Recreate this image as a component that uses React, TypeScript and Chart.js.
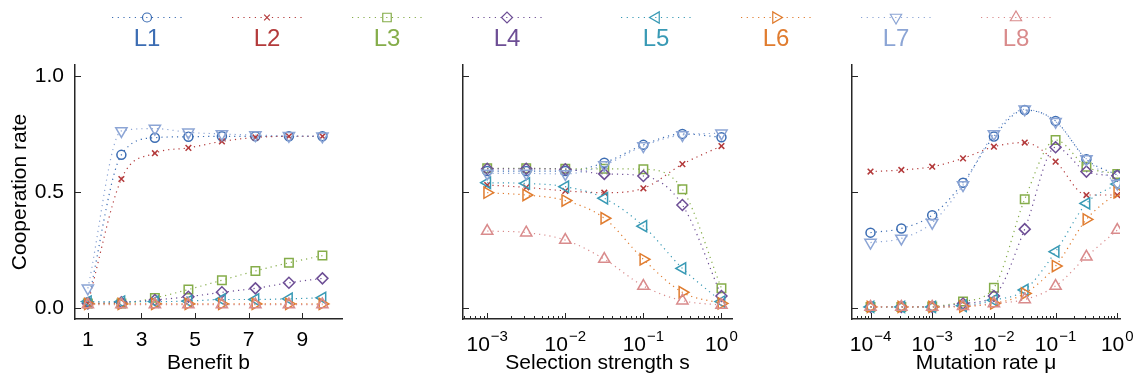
import React, { useEffect, useRef } from 'react';
import { Chart, registerables } from 'chart.js';
import { drawPoint } from 'chart.js/helpers';
Chart.register(...registerables);

const FONT = "'Liberation Sans', Arial, Helvetica, sans-serif";

// ---- series meta ----
const seriesNames = ['L1', 'L2', 'L3', 'L4', 'L5', 'L6', 'L7', 'L8'];
const seriesColors = ['#3c6db3', '#b33a3b', '#85ad4a', '#6d4e95', '#399ab5', '#e07c2f', '#8ca5d5', '#d98b8c'];
const pointStyles = ['circle', 'crossRot', 'rect', 'rectRot', 'triangle', 'triangle', 'triangle', 'triangle'];
const pointRotations = [0, 0, 0, 0, -90, 90, 180, 0];
const pointRadii = [4.5, 4, 6, 5.5, 6.5, 6.5, 6.5, 6.5];

// ---- panel 1: benefit b ----
const benefitB = [1, 2.25, 3.5, 4.75, 6, 7.25, 8.5, 9.75];
const benefitL1 = [0.025, 0.66, 0.734, 0.738, 0.74, 0.74, 0.74, 0.74];
const benefitL2 = [0.02, 0.556, 0.667, 0.69, 0.718, 0.735, 0.74, 0.74];
const benefitL3 = [0.02, 0.02, 0.044, 0.08, 0.12, 0.16, 0.195, 0.226];
const benefitL4 = [0.02, 0.025, 0.035, 0.049, 0.068, 0.085, 0.109, 0.128];
const benefitL5 = [0.028, 0.028, 0.028, 0.03, 0.037, 0.037, 0.04, 0.044];
const benefitL6 = [0.018, 0.018, 0.018, 0.018, 0.018, 0.018, 0.018, 0.018];
const benefitL7 = [0.085, 0.763, 0.773, 0.757, 0.75, 0.745, 0.742, 0.74];
const benefitL8 = [0.015, 0.015, 0.015, 0.015, 0.015, 0.015, 0.015, 0.015];
const benefitTicks = [1, 3, 5, 7, 9];

// ---- panel 2: selection strength s ----
const selectionS = [0.001, 0.00316, 0.01, 0.0316, 0.1, 0.316, 1];
const selectionL1 = [0.59, 0.59, 0.59, 0.626, 0.703, 0.75, 0.736];
const selectionL2 = [0.53, 0.52, 0.505, 0.497, 0.516, 0.62, 0.698];
const selectionL3 = [0.602, 0.602, 0.6, 0.6, 0.598, 0.512, 0.085];
const selectionL4 = [0.6, 0.6, 0.598, 0.578, 0.569, 0.444, 0.052];
const selectionL5 = [0.54, 0.537, 0.523, 0.473, 0.353, 0.171, 0.028];
const selectionL6 = [0.497, 0.487, 0.463, 0.387, 0.21, 0.068, 0.02];
const selectionL7 = [0.58, 0.58, 0.578, 0.616, 0.698, 0.746, 0.753];
const selectionL8 = [0.332, 0.325, 0.293, 0.211, 0.095, 0.032, 0.013];
const selectionTickExps = [-3, -2, -1, 0];

// ---- panel 3: mutation rate mu ----
const mutationMu = [0.0001, 0.000316, 0.001, 0.00316, 0.01, 0.0316, 0.1, 0.316, 1];
const mutationL1 = [0.325, 0.343, 0.4, 0.54, 0.739, 0.853, 0.806, 0.641, 0.573];
const mutationL2 = [0.588, 0.595, 0.609, 0.645, 0.695, 0.713, 0.631, 0.487, 0.487];
const mutationL3 = [0.005, 0.005, 0.007, 0.028, 0.088, 0.469, 0.724, 0.609, 0.578];
const mutationL4 = [0.005, 0.005, 0.005, 0.02, 0.052, 0.34, 0.693, 0.588, 0.57];
const mutationL5 = [0.005, 0.005, 0.005, 0.01, 0.034, 0.078, 0.243, 0.451, 0.534];
const mutationL6 = [0.005, 0.005, 0.005, 0.007, 0.02, 0.063, 0.181, 0.382, 0.499];
const mutationL7 = [0.282, 0.3, 0.368, 0.53, 0.75, 0.856, 0.803, 0.642, 0.537];
const mutationL8 = [0.005, 0.005, 0.005, 0.008, 0.02, 0.037, 0.095, 0.221, 0.336];
const mutationTickExps = [-4, -3, -2, -1, 0];

const rateTicks = [0, 0.5, 1];
const Y_MIN = -0.047;
const Y_MAX = 1.047;

const LEGEND_X = [147, 267, 387, 507, 656, 776, 896, 1016];

const AXIS_COLOR = '#262626';

function makeDatasets(xs: number[], series: number[][]) {
  return series.map((ys, i) => ({
    label: seriesNames[i],
    data: xs.map((x, j) => ({ x, y: ys[j] })),
    borderColor: seriesColors[i],
    backgroundColor: 'rgba(0,0,0,0)',
    pointBorderColor: seriesColors[i],
    pointBackgroundColor: 'rgba(0,0,0,0)',
    pointStyle: pointStyles[i],
    pointRotation: pointRotations[i],
    pointRadius: pointRadii[i],
    pointBorderWidth: 1.5,
    borderWidth: 1.2,
    borderDash: [1.2, 4],
    cubicInterpolationMode: 'monotone',
    order: 7 - i,
  }));
}

const axisPlugin = {
  id: 'inwardAxes',
  afterDraw(chart: any, _args: any, opts: any) {
    const { ctx, chartArea } = chart;
    const xs = chart.scales.x;
    const ys = chart.scales.y;
    ctx.save();
    ctx.strokeStyle = AXIS_COLOR;
    ctx.lineWidth = 1;
    for (const v of rateTicks) {
      const py = Math.round(ys.getPixelForValue(v)) + 0.5;
      ctx.beginPath();
      ctx.moveTo(chartArea.left, py);
      ctx.lineTo(chartArea.left + 6, py);
      ctx.stroke();
    }
    const drawXTick = (v: number, len: number) => {
      const px = Math.round(xs.getPixelForValue(v)) + 0.5;
      ctx.beginPath();
      ctx.moveTo(px, chartArea.bottom);
      ctx.lineTo(px, chartArea.bottom - len);
      ctx.stroke();
    };
    if (opts.log) {
      const lo = Math.floor(Math.log10(xs.min));
      const hi = Math.ceil(Math.log10(xs.max));
      for (let k = lo; k <= hi; k++) {
        for (let m = 1; m <= 9; m++) {
          const v = m * Math.pow(10, k);
          if (v < xs.min || v > xs.max) continue;
          drawXTick(v, m === 1 ? 6 : 3);
        }
      }
      ctx.fillStyle = '#000';
      ctx.textBaseline = 'alphabetic';
      ctx.textAlign = 'left';
      for (const e of opts.exps as number[]) {
        const px = xs.getPixelForValue(Math.pow(10, e));
        const base = '10';
        const sup = e === 0 ? '0' : '\u2212' + Math.abs(e);
        ctx.font = `21px ${FONT}`;
        const w1 = ctx.measureText(base).width;
        ctx.font = `15px ${FONT}`;
        const w2 = ctx.measureText(sup).width;
        const start = px - (w1 + w2 + 1) / 2;
        ctx.font = `21px ${FONT}`;
        ctx.fillText(base, start, chartArea.bottom + 32);
        ctx.font = `15px ${FONT}`;
        ctx.fillText(sup, start + w1 + 1, chartArea.bottom + 22);
      }
    } else {
      for (const v of benefitTicks) drawXTick(v, 6);
    }
    ctx.restore();
  },
};

function makeConfig(opts: {
  xs: number[];
  series: number[][];
  log: boolean;
  xMin: number;
  xMax: number;
  yWidth: number;
  padRight: number;
  xTitle: string;
  yTitle?: string;
  exps?: number[];
}) {
  return {
    type: 'line',
    data: { datasets: makeDatasets(opts.xs, opts.series) },
    plugins: [axisPlugin],
    options: {
      responsive: false,
      animation: false,
      events: [],
      layout: { padding: { left: 0, right: opts.padRight, top: 65, bottom: 0 } },
      plugins: {
        legend: { display: false },
        tooltip: { enabled: false },
        inwardAxes: { log: opts.log, exps: opts.exps || [] },
      },
      scales: {
        x: {
          type: opts.log ? 'logarithmic' : 'linear',
          min: opts.xMin,
          max: opts.xMax,
          grid: { display: false },
          border: { display: true, color: AXIS_COLOR, width: 1.5 },
          ticks: {
            display: !opts.log,
            color: '#000',
            font: { size: 21, family: FONT },
            padding: 1,
            autoSkip: false,
            maxRotation: 0,
          },
          afterBuildTicks: (s: any) => {
            if (!opts.log) s.ticks = benefitTicks.map((v) => ({ value: v }));
          },
          afterFit: (s: any) => {
            s.height = 66;
          },
          title: {
            display: true,
            text: opts.xTitle,
            color: '#000',
            font: { size: 21, family: FONT },
            padding: { top: 0, bottom: 9 },
          },
        },
        y: {
          type: 'linear',
          min: Y_MIN,
          max: Y_MAX,
          grid: { display: false },
          border: { display: true, color: AXIS_COLOR, width: 1.5 },
          ticks: {
            display: !!opts.yTitle,
            color: '#000',
            font: { size: 21, family: FONT },
            padding: 3,
            callback: (v: any) => Number(v).toFixed(1),
          },
          afterBuildTicks: (s: any) => {
            s.ticks = rateTicks.map((v) => ({ value: v }));
          },
          afterFit: (s: any) => {
            s.width = opts.yWidth;
          },
          title: {
            display: !!opts.yTitle,
            text: opts.yTitle || '',
            color: '#000',
            font: { size: 21, family: FONT },
            padding: { top: 8, bottom: 0 },
          },
        },
      },
    },
  } as any;
}

export default function App() {
  const c1 = useRef<HTMLCanvasElement>(null);
  const c2 = useRef<HTMLCanvasElement>(null);
  const c3 = useRef<HTMLCanvasElement>(null);
  const legendRef = useRef<HTMLCanvasElement>(null);

  useEffect(() => {
    Chart.defaults.font.family = FONT;
    const charts: Chart[] = [];
    charts.push(
      new Chart(
        c1.current!,
        makeConfig({
          xs: benefitB,
          series: [benefitL1, benefitL2, benefitL3, benefitL4, benefitL5, benefitL6, benefitL7, benefitL8],
          log: false,
          xMin: 0.52,
          xMax: 10.48,
          yWidth: 75,
          padRight: 5,
          xTitle: 'Benefit b',
          yTitle: 'Cooperation rate',
        })
      )
    );
    charts.push(
      new Chart(
        c2.current!,
        makeConfig({
          xs: selectionS,
          series: [selectionL1, selectionL2, selectionL3, selectionL4, selectionL5, selectionL6, selectionL7, selectionL8],
          log: true,
          xMin: Math.pow(10, -3.31),
          xMax: Math.pow(10, 0.135),
          yWidth: 63,
          padRight: 7,
          xTitle: 'Selection strength s',
          exps: selectionTickExps,
        })
      )
    );
    charts.push(
      new Chart(
        c3.current!,
        makeConfig({
          xs: mutationMu,
          series: [mutationL1, mutationL2, mutationL3, mutationL4, mutationL5, mutationL6, mutationL7, mutationL8],
          log: true,
          xMin: Math.pow(10, -4.3),
          xMax: Math.pow(10, 0.044),
          yWidth: 62,
          padRight: 21,
          xTitle: 'Mutation rate \u03bc',
          exps: mutationTickExps,
        })
      )
    );

    const lc = legendRef.current!;
    const ctx = lc.getContext('2d')!;
    ctx.clearRect(0, 0, lc.width, lc.height);
    seriesNames.forEach((_, i) => {
      const cx = LEGEND_X[i];
      const cy = 17.5;
      ctx.save();
      ctx.strokeStyle = seriesColors[i];
      ctx.lineWidth = 1.2;
      ctx.setLineDash([1.2, 4.5]);
      ctx.beginPath();
      ctx.moveTo(cx - 35, cy);
      ctx.lineTo(cx + 35, cy);
      ctx.stroke();
      ctx.setLineDash([]);
      ctx.strokeStyle = seriesColors[i];
      ctx.fillStyle = 'rgba(0,0,0,0)';
      drawPoint(
        ctx,
        { pointStyle: pointStyles[i], rotation: pointRotations[i], radius: pointRadii[i], borderWidth: 1.5 } as any,
        cx,
        cy
      );
      ctx.restore();
    });

    return () => {
      charts.forEach((c) => c.destroy());
    };
  }, []);

  return (
    <div style={{ position: 'fixed', left: 0, top: 0, width: 1141, height: 385, background: '#fff', overflow: 'hidden' }}>
      <canvas ref={legendRef} width={1141} height={30} style={{ position: 'absolute', left: 0, top: 0 }} />
      {seriesNames.map((name, i) => (
        <div
          key={name}
          style={{
            position: 'absolute',
            left: LEGEND_X[i] - 40,
            top: 26,
            width: 80,
            textAlign: 'center',
            fontFamily: FONT,
            fontSize: 24,
            lineHeight: '24px',
            color: seriesColors[i],
          }}
        >
          {name}
        </div>
      ))}
      <canvas ref={c1} width={350} height={385} style={{ position: 'absolute', left: 0, top: 0 }} />
      <canvas ref={c2} width={340} height={385} style={{ position: 'absolute', left: 400, top: 0 }} />
      <canvas ref={c3} width={351} height={385} style={{ position: 'absolute', left: 790, top: 0 }} />
    </div>
  );
}
